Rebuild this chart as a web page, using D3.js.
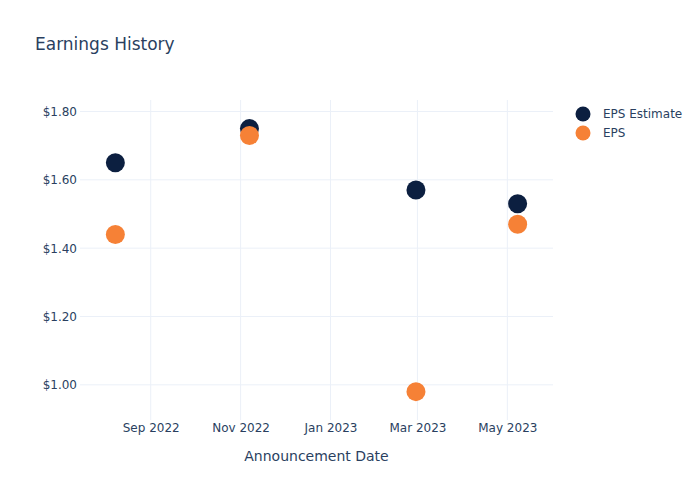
<!DOCTYPE html>
<html><head><meta charset="utf-8">
<script src="https://cdn.jsdelivr.net/npm/d3@7"></script>
<style>body{margin:0;background:#fff}svg{font-family:"DejaVu Sans",Verdana,sans-serif}</style>
</head><body>
<svg id="c" width="700" height="500"></svg>
<script>
const dates = ["2022-08-08","2022-11-07","2023-02-28","2023-05-08"];
const epsEstimate = [1.65, 1.75, 1.57, 1.53];
const eps = [1.44, 1.73, 0.98, 1.47];
const yTicks = [1.0, 1.2, 1.4, 1.6, 1.8];
const xTicks = ["2022-09-01","2022-11-01","2023-01-01","2023-03-01","2023-05-01"];
const seriesNames = ["EPS Estimate","EPS"];
const colors = ["#0c1f40","#f68136"];

const parse = d3.utcParse("%Y-%m-%d");
const svg = d3.select("#c");
const L=80, R=553, T=100, B=420;
const x = d3.scaleUtc().domain([parse("2022-07-15"), parse("2023-06-01")]).range([L,R]);
const y = d3.scaleLinear().domain([0.897, 1.8337]).range([B,T]);
const txt = "#2a3f5f", grid = "#ebf0f8";

// grid
svg.append("g").selectAll("line").data(xTicks).join("line")
  .attr("x1",d=>x(parse(d))).attr("x2",d=>x(parse(d))).attr("y1",T).attr("y2",B)
  .attr("stroke",grid).attr("stroke-width",1);
svg.append("g").selectAll("line").data(yTicks).join("line")
  .attr("x1",L).attr("x2",R).attr("y1",d=>y(d)).attr("y2",d=>y(d))
  .attr("stroke",grid).attr("stroke-width",1);

// axes
const xAxis = d3.axisBottom(x).tickValues(xTicks.map(parse)).tickFormat(d3.utcFormat("%b %Y")).tickSize(0).tickPadding(3);
const gx = svg.append("g").attr("transform",`translate(0,${B})`).call(xAxis);
gx.select(".domain").remove();
gx.selectAll("text").attr("fill",txt).style("font-size","12px").style("font-family","DejaVu Sans");

const yAxis = d3.axisLeft(y).tickValues(yTicks).tickFormat(d=>"$"+d.toFixed(2)).tickSize(0).tickPadding(3);
const gy = svg.append("g").attr("transform",`translate(${L},0)`).call(yAxis);
gy.select(".domain").remove();
gy.selectAll("text").attr("fill",txt).style("font-size","12px").style("font-family","DejaVu Sans");

// points
const series = [epsEstimate, eps];
series.forEach((vals,i)=>{
  svg.append("g").selectAll("circle").data(vals).join("circle")
    .attr("cx",(d,j)=>x(parse(dates[j]))).attr("cy",d=>y(d)).attr("r",9.5)
    .attr("fill",colors[i]);
});

// title
svg.append("text").attr("x",35).attr("y",50).attr("fill",txt).style("font-size","17px").text("Earnings History");
svg.append("text").attr("x",(L+R)/2).attr("y",461).attr("text-anchor","middle").attr("fill",txt).style("font-size","14px").text("Announcement Date");

// legend
const lg = svg.append("g").selectAll("g").data(seriesNames).join("g")
  .attr("transform",(d,i)=>`translate(583,${114+i*19})`);
lg.append("circle").attr("r",7.5).attr("fill",(d,i)=>colors[i]);
lg.append("text").attr("x",20).attr("dy","0.35em").attr("fill",txt).style("font-size","12px").text(d=>d);
</script>
</body></html>
